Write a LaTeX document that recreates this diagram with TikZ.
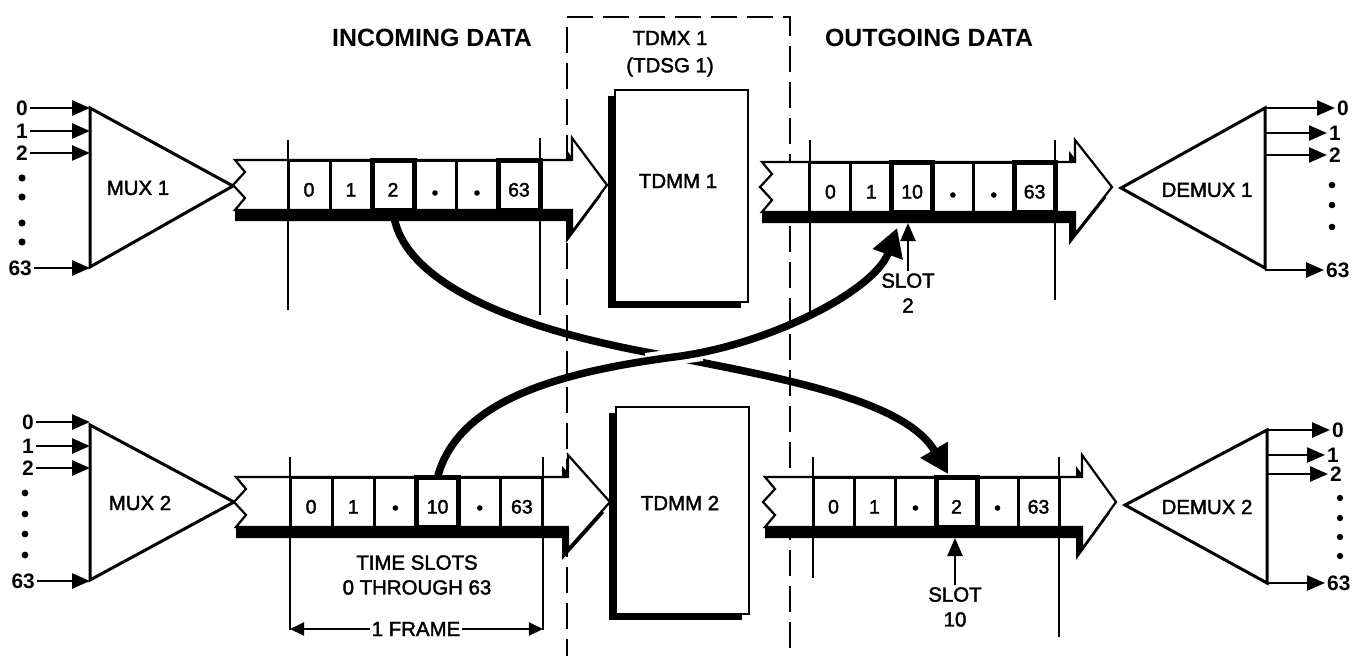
\documentclass[tikz,border=0pt]{standalone}
\usepackage{fontspec}
\setmainfont{Liberation Sans}
\newfontfamily\medfont[FakeBold=2]{Liberation Sans}
\usetikzlibrary{arrows.meta,calc,shadows,backgrounds}

\tikzset{
  ttl/.style={font=\fontsize{25}{30}\selectfont\bfseries, inner sep=0pt},
  lbl/.style={font=\fontsize{20.5}{25}\selectfont\medfont, inner sep=2bp, align=center},
  io/.style={font=\fontsize{21}{24}\selectfont\bfseries, inner sep=2bp},
  cell/.style={draw, line width=3bp, minimum width=#1, minimum height=50bp,
    inner sep=0pt, outer sep=0pt, text height=23bp, text depth=0pt,
    font=\fontsize{19.5}{20}\selectfont\medfont},
  hot/.style={line width=5bp},
  sig/.style={line width=2.5bp, -{Triangle[length=18bp,width=15bp]}},
  dimarrow/.style={line width=2bp, -{Triangle[length=14bp,width=13bp]}},
  crossflow/.style={line width=7.5bp, -{Triangle[length=28bp,width=30bp]}},
  framemark/.style={line width=2bp},
  encl/.style={line width=2bp, dash pattern=on 26bp off 10bp},
  tri/.style={line width=3bp, line join=miter},
  tdmm/.style={draw, fill=white, line width=2bp, minimum width=133bp, inner sep=0pt,
    general shadow={fill=black, shadow xshift=-7bp, shadow yshift=-6bp}},
  % data stream drawn as a broad arrow with a torn left end and a drop shadow
  pics/datapipe/.style 2 args={code={
    \fill[black] (12,13) -- (#1-6,13) -- (#1-6,-36) -- (#1+#2-6,11) -- (#1-6,58)
      -- (#1-6,36) -- (2,36) -- (2,25) -- cycle;
    \filldraw[fill=white, line width=2.2bp, line join=miter] (2,-25) -- (#1,-25) -- (#1,-47)
      -- (#1+#2,0) -- (#1,47) -- (#1,25) -- (2,25) -- (12,13) -- (0,0) -- (12,-13) -- cycle;
  }},
}

\begin{document}
\begin{tikzpicture}[x=1bp,y=-1bp]
\useasboundingbox (0,0) rectangle (1356,656);

% headings
\node[ttl] (hin) at (432,38) {INCOMING DATA};
\node[ttl] (hout) at (929,38) {OUTGOING DATA};
\node[lbl] (tdmx) at (670,38) {TDMX 1};
\node[lbl] (tdsg) at (670,67) {(TDSG 1)};

% switching memories
\node[tdmm, minimum height=212bp] (m1) at (681.5,196) {};
\node[lbl] (m1t) at (678,181) {TDMM 1};
\node[tdmm, minimum height=207bp] (m2) at (682,510) {};
\node[lbl] (m2t) at (680,503) {TDMM 2};

% ---------- multiplexers ----------
\coordinate (u1t) at (90,108); \coordinate (u1b) at (90,267); \coordinate (u1p) at (233,186);
\draw[tri] (u1t) -- (u1p) -- (u1b) -- cycle;
\node[lbl] (u1) at (138,188) {MUX 1};
\node[io] (p0) at (22,108) {0};
\node[io] (p1) at (22,131) {1};
\node[io] (p2) at (22,153) {2};
\node[io, anchor=east] (p63) at (34,268) {63};
\foreach \n in {p0,p1,p2,p63} \draw[sig] (\n.east) -- (\n.east -| u1t);
\foreach \yy in {178,197,223,242} \fill (22,\yy) circle[radius=3.6bp];

\coordinate (u2t) at (90,425); \coordinate (u2b) at (90,580); \coordinate (u2p) at (234,502);
\draw[tri] (u2t) -- (u2p) -- (u2b) -- cycle;
\node[lbl] (u2) at (140,503) {MUX 2};
\node[io] (q0) at (28,422) {0};
\node[io] (q1) at (28,446) {1};
\node[io] (q2) at (28,468) {2};
\node[io, anchor=east] (q63) at (37,581) {63};
\foreach \n in {q0,q1,q2,q63} \draw[sig] (\n.east) -- (\n.east -| u2t);
\foreach \yy in {493,514,534,555} \fill (25,\yy) circle[radius=3.4bp];

% ---------- demultiplexers ----------
\coordinate (v1t) at (1265,108); \coordinate (v1b) at (1265,268); \coordinate (v1p) at (1121,188);
\draw[tri] (v1t) -- (v1p) -- (v1b) -- cycle;
\node[lbl] (v1) at (1207,190) {DEMUX 1};
\node[io] (r0) at (1343,108) {0};
\node[io] (r1) at (1335,133) {1};
\node[io] (r2) at (1335,155) {2};
\node[io, anchor=west] (r63) at (1324,270) {63};
\foreach \n in {r0,r1,r2,r63} \draw[sig] (\n.west -| v1t) -- (\n.west);
\foreach \yy in {185,205,227} \fill (1332,\yy) circle[radius=3.3bp];

\coordinate (v2t) at (1267,430); \coordinate (v2b) at (1267,583); \coordinate (v2p) at (1125,505);
\draw[tri] (v2t) -- (v2p) -- (v2b) -- cycle;
\node[lbl] (v2) at (1207,507) {DEMUX 2};
\node[io] (w0) at (1338,430) {0};
\node[io] (w1) at (1333,455) {1};
\node[io] (w2) at (1336,474) {2};
\node[io, anchor=west] (w63) at (1325,583) {63};
\foreach \n in {w0,w1,w2,w63} \draw[sig] (\n.west -| v2t) -- (\n.west);
\foreach \yy in {498,518,537,556} \fill (1340,\yy) circle[radius=3.2bp];

% ---------- incoming frame, group 1 ----------
\pic at (233,185) {datapipe={339}{35}};
\node[cell=42bp] (a1) at (309,185) {0};
\node[cell=42bp] (a2) at (351,185) {1};
\node[cell=42bp] (a4) at (435,185) {};
\node[cell=42bp] (a5) at (477,185) {};
\node[cell=42bp, hot] (a3) at (393,185) {2};
\node[cell=42bp, hot] (a6) at (519,185) {63};
\foreach \n in {a4,a5} \fill ([yshift=-8bp]\n.center) circle[radius=2.8bp];

% ---------- outgoing frame, group 1 ----------
\pic at (760,187) {datapipe={315}{37}};
\node[cell=40.83bp] (b1) at (830.4,187) {0};
\node[cell=40.83bp] (b2) at (871.3,187) {1};
\node[cell=40.83bp] (b4) at (952.9,187) {};
\node[cell=40.83bp] (b5) at (993.8,187) {};
\node[cell=40.83bp, hot] (b3) at (912.1,187) {10};
\node[cell=40.83bp, hot] (b6) at (1034.6,187) {63};
\foreach \n in {b4,b5} \fill ([yshift=-8bp]\n.center) circle[radius=2.8bp];

% ---------- incoming frame, group 2 ----------
\pic at (234,502) {datapipe={334}{42}};
\node[cell=42.17bp] (c1) at (311.1,502) {0};
\node[cell=42.17bp] (c2) at (353.3,502) {1};
\node[cell=42.17bp] (c3) at (395.4,502) {};
\node[cell=42.17bp] (c5) at (479.8,502) {};
\node[cell=42.17bp] (c6) at (521.9,502) {63};
\node[cell=42.17bp, hot] (c4) at (437.6,502) {10};
\foreach \n in {c3,c5} \fill ([yshift=-6bp]\n.center) circle[radius=2.8bp];

% ---------- outgoing frame, group 2 ----------
\pic at (763,502) {datapipe={319}{34}};
\node[cell=41bp] (d1) at (833.5,502) {0};
\node[cell=41bp] (d2) at (874.5,502) {1};
\node[cell=41bp] (d3) at (915.5,502) {};
\node[cell=41bp] (d5) at (997.5,502) {};
\node[cell=41bp] (d6) at (1038.5,502) {63};
\node[cell=41bp, hot] (d4) at (956.5,502) {2};
\foreach \n in {d3,d5} \fill ([yshift=-6bp]\n.center) circle[radius=2.8bp];

% frame boundaries
\draw[framemark] ($(a1.north west)+(0,-20)$) -- ($(a1.south west)+(0,100)$);
\draw[framemark] ($(a6.north east)+(0,-22)$) -- ($(a6.south east)+(0,105)$);
\draw[framemark] ($(b1.north west)+(0,-22)$) -- ($(b1.south west)+(0,106)$);
\draw[framemark] ($(b6.north east)+(0,-22)$) -- ($(b6.south east)+(0,88)$);
\draw[framemark] ($(c1.north west)+(0,-20)$) -- ($(c1.south west)+(0,103)$);
\draw[framemark] ($(c6.north east)+(0,-20)$) -- ($(c6.south east)+(0,103)$);
\draw[framemark] ($(d1.north west)+(0,-20)$) -- ($(d1.south west)+(0,51)$);
\draw[framemark] ($(d6.north east)+(0,-20)$) -- ($(d6.south east)+(0,110)$);

% annotations
\node[lbl] (ts) at (417,575) {TIME SLOTS\\0 THROUGH 63};
\node[lbl] (fr) at (416,629) {1 FRAME};
\draw[dimarrow] (fr.west) -- (fr.west -| c1.west);
\draw[dimarrow] (fr.east) -- (fr.east -| c6.east);

\node[lbl] (s2) at (908,293) {SLOT\\2};
\draw[sig] (s2.north) -- ($(s2.north |- b3.south)+(0,11)$);
\node[lbl] (s10) at (955,607) {SLOT\\10};
\draw[sig] (s10.north) -- ($(s10.north |- d4.south)+(0,11)$);

% enclosure and slot interchange, behind the frames
\coordinate (x1) at (674,357);
\begin{scope}[on background layer]
  \draw[encl] (567,665) -- (567,17) -- (790,17) -- (790,665);
  \draw[crossflow] (a3.south) .. controls (400,290) and (540,335) .. (x1)
    .. controls (780,378) and (905,400) .. ($(d4.north)+(-8.5,-3)$);
  \draw[white, line width=16bp] ($(x1)+(-28,4)$) -- ($(x1)+(28,-4)$);
  \draw[crossflow] (c4.north) .. controls (458,400) and (560,372) .. (x1)
    .. controls (770,345) and (875,290) .. ($(b3.south)+(-15,16)$);
\end{scope}
\end{tikzpicture}
\end{document}
